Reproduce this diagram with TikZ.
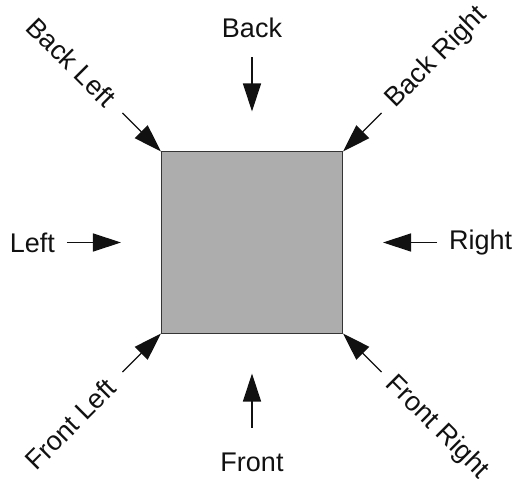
\documentclass[tikz,border=0pt]{standalone}
\usepackage{fontspec}
\setmainfont{Liberation Sans}
\usetikzlibrary{arrows.meta,positioning,calc}
\definecolor{Ink}{HTML}{111111}
\definecolor{Block}{HTML}{ADADAD}

\begin{document}
\begin{tikzpicture}[x=1pt,y=1pt,
  lbl/.style={inner sep=0pt,font=\fontsize{27}{32}\selectfont,text=Ink},
  pointer/.style={draw=Ink,line width=1.3pt,-{Triangle[length=28pt,width=18pt]}}]
\useasboundingbox (-252,-235.5) rectangle (266,242.5);
\node[draw=Ink!85,fill=Block,line width=1pt,minimum size=181pt,inner sep=0pt] (sq) at (0,0) {};
% sides: tip stands off the square
\foreach \n/\a/\vx/\vy in {bk/north/0/1,ft/south/0/-1,lt/west/-1/0,rt/east/1/0} {
  \coordinate (\n-tip) at ($(sq.\a)+(40*\vx,40*\vy)$);
  \coordinate (\n-tail) at ($(\n-tip)+(54*\vx,54*\vy)$);
  \draw[pointer] (\n-tail) -- (\n-tip);
}
% corners: tip on the corner
\foreach \n/\a/\vx/\vy in {bl/north west/-1/1,br/north east/1/1,fl/south west/-1/-1,fr/south east/1/-1} {
  \coordinate (\n-tip) at (sq.\a);
  \coordinate (\n-tail) at ($(\n-tip)+(38.5*\vx,38.5*\vy)$);
  \draw[pointer] (\n-tail) -- (\n-tip);
}
\node[lbl,above=20pt of bk-tail] (bk) {Back};
\node[lbl,below=25pt of ft-tail] (ft) {Front};
\node[lbl,left=12pt of lt-tail] (lt) {Left};
\node[lbl,right=12pt of rt-tail] (rt) {Right};
\node[lbl,rotate=-45,anchor=east] (bl) at ($(bl-tail)+(-11,11)$) {Back Left};
\node[lbl,rotate=45,anchor=west] (br) at ($(br-tail)+(9,9)$) {Back Right};
\node[lbl,rotate=45,anchor=east] (fl) at ($(fl-tail)+(-11,-11)$) {Front Left};
\node[lbl,rotate=-45,anchor=west] (fr) at ($(fr-tail)+(8,-8)$) {Front Right};
\end{tikzpicture}
\end{document}
